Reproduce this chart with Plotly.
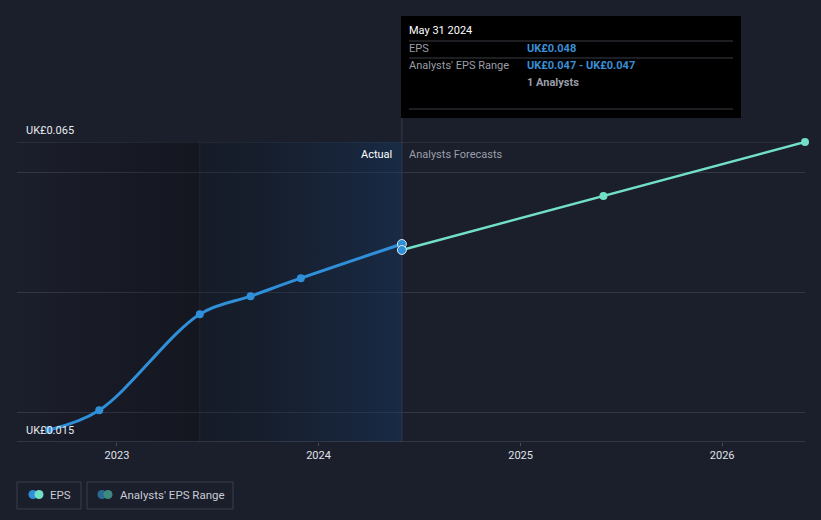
import plotly.graph_objects as go

# ---- data ----
actual_dates = ["2022-08-31", "2022-11-30", "2023-05-31", "2023-08-31", "2023-11-30", "2024-05-31"]
actual_eps = [0.017, 0.0203, 0.0363, 0.0393, 0.0423, 0.048]
forecast_dates = ["2024-05-31", "2025-05-31", "2026-05-31"]
forecast_eps = [0.047, 0.056, 0.065]
y_label_vals = [0.015, 0.065]
y_label_text = ["UK£0.015", "UK£0.065"]
grid_vals = [0.02, 0.04, 0.06]
x_range = ["2022-07-04", "2026-05-31"]
y_range = [0.015, 0.065]
past_start = x_range[0]
actual_start = "2023-05-31"
actual_end = actual_dates[-1]

W, H = 821, 520
L, R, T, B = 17, 805, 142, 442

def px(x):
    return (x - L) / (R - L)

def py(y):
    return (B - y) / (B - T)

BG = "#1b1e2b"
BLUE = "#2f8fd8"
MINT = "#72e0c6"
FONT = "Roboto"

fig = go.Figure()

# past (dark) region
fig.add_trace(go.Scatter(
    x=[past_start, actual_start, actual_start, past_start, past_start],
    y=[y_range[0], y_range[0], y_range[1], y_range[1], y_range[0]],
    fill="toself", mode="none", hoverinfo="skip", showlegend=False,
    fillgradient=dict(type="horizontal",
                      colorscale=[[0, "rgba(0,0,0,0)"], [1, "rgba(0,0,0,0.27)"]]),
))
# actual region
fig.add_trace(go.Scatter(
    x=[actual_start, actual_end, actual_end, actual_start, actual_start],
    y=[y_range[0], y_range[0], y_range[1], y_range[1], y_range[0]],
    fill="toself", mode="none", hoverinfo="skip", showlegend=False,
    fillgradient=dict(type="horizontal",
                      colorscale=[[0, "rgba(10,20,30,0.3)"], [1, "rgba(22,55,95,0.5)"]]),
))

# forecast line
fig.add_trace(go.Scatter(
    x=forecast_dates, y=forecast_eps, mode="lines+markers",
    line=dict(color=MINT, width=2.5),
    marker=dict(size=8, color=MINT),
    cliponaxis=False, showlegend=False, hoverinfo="skip",
))
# actual line
fig.add_trace(go.Scatter(
    x=actual_dates, y=actual_eps, mode="lines+markers",
    line=dict(color=BLUE, width=3, shape="spline", smoothing=1.0),
    marker=dict(size=8, color=BLUE),
    cliponaxis=False, showlegend=False, hoverinfo="skip",
))
# highlighted hover points
fig.add_trace(go.Scatter(
    x=[actual_dates[-1], forecast_dates[0]], y=[actual_eps[-1], forecast_eps[0]],
    mode="markers",
    marker=dict(size=9, color=BLUE, line=dict(color="#dfe6f0", width=1)),
    cliponaxis=False, showlegend=False, hoverinfo="skip",
))

shapes = []
# faint vertical line at start of actual region
shapes.append(dict(type="line", xref="x", yref="paper", x0=actual_start, x1=actual_start,
                   y0=0, y1=1, line=dict(color="rgba(120,130,150,0.18)", width=1), layer="below"))
# top boundary line
shapes.append(dict(type="line", xref="paper", yref="y", x0=0, x1=1, y0=y_range[1], y1=y_range[1],
                   line=dict(color="#3a3e4a", width=1), layer="below"))
# vertical hover line
shapes.append(dict(type="line", xref="x", yref="paper", x0=actual_end, x1=actual_end,
                   y0=0, y1=py(118), line=dict(color="rgba(120,130,150,0.3)", width=1), layer="below"))
# tooltip box
shapes.append(dict(type="rect", xref="paper", yref="paper",
                   x0=px(401), x1=px(741), y0=py(118), y1=py(16),
                   fillcolor="#000000", line=dict(width=0)))
for yy in [41, 58, 109]:
    shapes.append(dict(type="line", xref="paper", yref="paper", x0=px(409), x1=px(733),
                       y0=py(yy), y1=py(yy), line=dict(color="#3a3d45", width=1)))

# legend boxes
shapes.append(dict(type="rect", xref="paper", yref="paper", x0=px(17), x1=px(81),
                   y0=py(509), y1=py(482), line=dict(color="#3b3f4b", width=1)))
shapes.append(dict(type="rect", xref="paper", yref="paper", x0=px(87), x1=px(233),
                   y0=py(509), y1=py(482), line=dict(color="#3b3f4b", width=1)))
def circ(cx, cy, r, color):
    return dict(type="circle", xref="paper", yref="paper", x0=px(cx - r), x1=px(cx + r),
                y0=py(cy + r), y1=py(cy - r), fillcolor=color, line=dict(width=0))
shapes.append(circ(33, 494.5, 4.5, BLUE))
shapes.append(circ(39, 494.5, 4.5, MINT))
shapes.append(circ(102, 494.5, 4.5, "#2a6b94"))
shapes.append(circ(108, 494.5, 4.5, "#3f8a80"))

annotations = []
for v, t in zip(y_label_vals, y_label_text):
    annotations.append(dict(text=t, xref="paper", yref="y", x=px(24), y=v, xanchor="left",
                            yanchor="bottom", yshift=3, showarrow=False,
                            font=dict(family=FONT, size=11, color="#e8eaee")))

def ann(text, x, y, color, size=11, anchor="left", bold=False):
    if bold:
        text = "<b>" + text + "</b>"
    annotations.append(dict(text=text, xref="paper", yref="paper", x=px(x), y=py(y),
                            xanchor=anchor, yanchor="middle", showarrow=False,
                            font=dict(family=FONT, size=size, color=color)))

ann("May 31 2024", 407, 31, "#ffffff", 11, bold=False)
ann("EPS", 407, 49, "#9a9ea8", 11)
ann("UK£0.048", 525, 49, "#3a8fd6", 11, bold=True)
ann("Analysts' EPS Range", 407, 66, "#9a9ea8", 11)
ann("UK£0.047 - UK£0.047", 525, 66, "#3a8fd6", 11, bold=True)
ann("1 Analysts", 525, 83, "#9a9ea8", 11, bold=True)
ann("Actual", 394, 154, "#ffffff", 11, anchor="right")
ann("Analysts Forecasts", 407, 154, "#9a9ea8", 11)
ann("EPS", 48, 494.5, "#c8ccd4", 11.5)
ann("Analysts' EPS Range", 118, 494.5, "#c8ccd4", 11.5)

fig.update_layout(
    width=W, height=H,
    margin=dict(l=L, r=W - R, t=T, b=H - B),
    paper_bgcolor=BG, plot_bgcolor=BG,
    shapes=shapes, annotations=annotations,
    showlegend=False,
    font=dict(family=FONT, color="#c8ccd4"),
    xaxis=dict(type="date", range=x_range, showgrid=False, zeroline=False,
               tick0="2023-01-01", dtick="M12", tickformat="%Y",
               ticks="outside", ticklen=3, tickcolor="#4a4e5a",
               showline=False,
               tickfont=dict(family=FONT, size=11, color="#e0e3e8")),
    yaxis=dict(range=y_range, tickvals=grid_vals, showticklabels=False,
               gridcolor="#343845", gridwidth=1, zeroline=False,
               showline=False, fixedrange=True),
)
# axis base line at bottom of plot
fig.add_shape(type="line", xref="paper", yref="y", x0=0, x1=1, y0=y_range[0], y1=y_range[0],
              line=dict(color="#4a4e5a", width=1))

fig.write_html("out.html")
